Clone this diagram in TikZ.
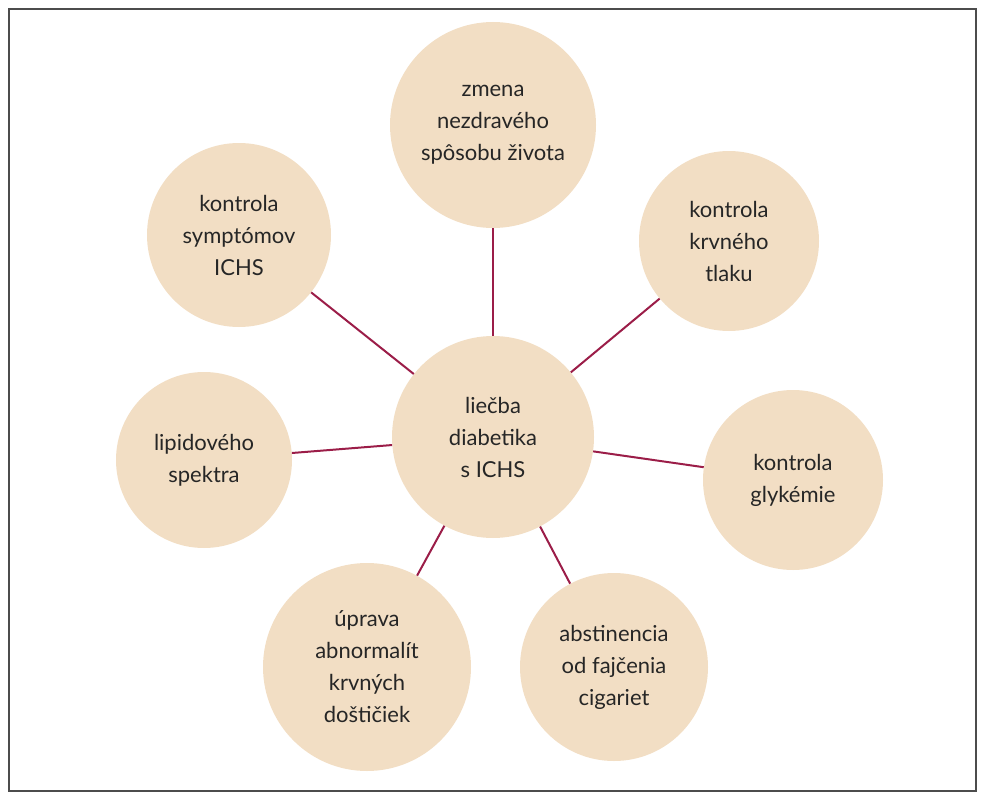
\documentclass[tikz,border=0pt]{standalone}
\usepackage{fontspec}
\setmainfont{Lato}
\usepackage{xcolor}
\usetikzlibrary{positioning}
\definecolor{beige}{HTML}{F2DEC4}
\definecolor{wine}{HTML}{9B1D48}

\begin{document}
\begin{tikzpicture}[x=1pt,y=-1pt,
    bubble/.style={circle, fill=beige, align=center, inner sep=0pt,
      font=\fontsize{22}{32}\selectfont, text=black!85},
    link/.style={wine, line width=2pt}]
    % frame
    \useasboundingbox (0,0) rectangle (985,800);
    \draw[black!70, line width=1.2pt] (9,9) rectangle (976,791);

    % hub
    \node[bubble, minimum size=202pt] (hub) at (493,437) {liečba\\diabetika\\s ICHS};

    % satellites
    \node[bubble, minimum size=206pt] (life) at (493,125) {zmena\\nezdravého\\spôsobu života};
    \node[bubble, minimum size=184pt] (sympt) at (239,235) {kontrola\\symptómov\\ICHS};
    \node[bubble, minimum size=180pt] (press) at (729,241) {kontrola\\krvného\\tlaku};
    \node[bubble, minimum size=176pt] (lipid) at (204,460) {lipidového\\spektra};
    \node[bubble, minimum size=180pt] (glyc) at (793,480) {kontrola\\glykémie};
    \node[bubble, minimum size=208pt] (plat) at (367,667) {úprava\\abnormalít\\krvných\\doštičiek};
    \node[bubble, minimum size=188pt] (smoke) at (614,667) {abstinencia\\od fajčenia\\cigariet};

    % connectors
    \foreach \s in {life,sympt,press,lipid,glyc,plat,smoke}
        \draw[link] (hub) -- (\s);
\end{tikzpicture}
\end{document}
